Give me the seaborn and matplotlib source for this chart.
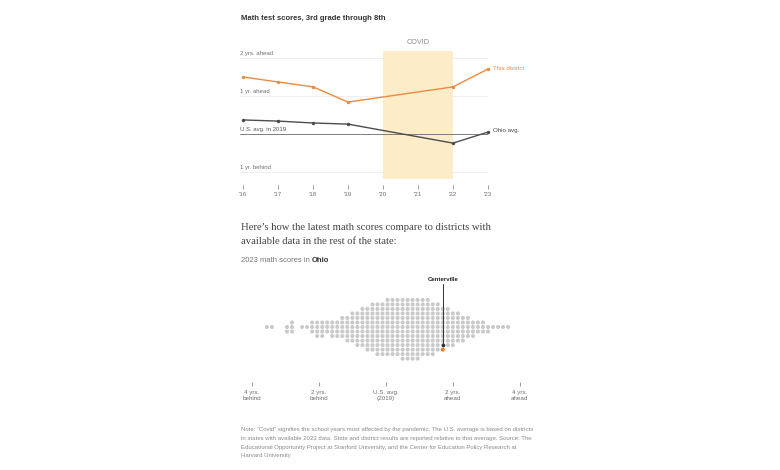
import numpy as np
import pandas as pd
import matplotlib
matplotlib.use("Agg")
import matplotlib.pyplot as plt
import matplotlib.colors as mcolors
import seaborn as sns

# ---------------- data ----------------
years = [2016, 2017, 2018, 2019, 2022, 2023]
district = [1.50, 1.37, 1.24, 0.84, 1.24, 1.71]
ohio = [0.37, 0.34, 0.29, 0.26, -0.24, 0.05]
year_ticks = [2016, 2017, 2018, 2019, 2020, 2021, 2022, 2023]
year_labels = ["'16", "'17", "'18", "'19", "'20", "'21", "'22", "'23"]
grid_levels = [2, 1, -1]
grid_labels = ["2 yrs. ahead", "1 yr. ahead", "1 yr. behind"]
covid_span = [2020, 2022]

# 2023 Ohio district scores (years relative to U.S. avg), read as counts per value
score_values = [-3.54, -3.39, -2.94, -2.79, -2.49, -2.34, -2.19, -2.04, -1.89, -1.74,
                -1.59, -1.44, -1.29, -1.14, -0.99, -0.84, -0.69, -0.54, -0.39, -0.24,
                -0.09, 0.06, 0.21, 0.36, 0.51, 0.66, 0.81, 0.96, 1.11, 1.26,
                1.41, 1.56, 1.71, 1.86, 2.01, 2.16, 2.31, 2.46, 2.61, 2.76,
                2.91, 3.06, 3.21, 3.36, 3.51, 3.66]
score_counts = [1, 1, 2, 3, 1, 1, 3, 4, 4, 3,
                4, 4, 5, 6, 7, 8, 9, 10, 11, 12,
                12, 13, 13, 13, 14, 14, 14, 14, 13, 13,
                12, 11, 9, 9, 8, 7, 6, 5, 4, 3,
                3, 2, 1, 1, 1, 1]
centerville = district[-1]
swarm_ticks = [-4, -2, 0, 2, 4]
swarm_labels = ["4 yrs.\nbehind", "2 yrs.\nbehind", "U.S. avg.\n(2019)", "2 yrs.\nahead", "4 yrs.\nahead"]

# ---------------- style ----------------
sns.set_theme(style="white")
plt.rcParams["font.family"] = ["Liberation Sans", "DejaVu Sans"]

orange = "#ef8a3d"
dot_orange = "#ee7d25"
dark = "#4d4d4d"
band = "#fcecc8"
dot_gray = "#c9c9c9"
label_gray = "#6e6e6e"

W, H = 780, 470
fig = plt.figure(figsize=(W / 100, H / 100), dpi=100)
fig.patch.set_facecolor("white")


def fy(py):
    return 1 - py / H


# ---------------- top line chart ----------------
px_per_year = 35.0
px_per_unit = 38.0
zero_px = 134.0
ax1 = fig.add_axes([240 / W, fy(185), 248 / W, 134 / H])
ax1.set_xlim(2016 - 3 / px_per_year, 2023)
ax1.set_ylim((zero_px - 185) / px_per_unit, (zero_px - 51) / px_per_unit)
ax1.axvspan(covid_span[0], covid_span[1], ymin=6 / 134, ymax=1, color=band, lw=0, zorder=1)
for lev, lab in zip(grid_levels, grid_labels):
    ax1.axhline(lev, color="#ececec", lw=0.6, zorder=0.5)
    ax1.annotate(lab, (ax1.get_xlim()[0], lev), xytext=(0, 1.2), textcoords="offset points",
                 ha="left", va="bottom", fontsize=4.3, color=label_gray)
ax1.axhline(0, color="#6a6a6a", lw=0.6, zorder=2)
ax1.annotate("U.S. avg. in 2019", (ax1.get_xlim()[0], 0), xytext=(0, 1.2), textcoords="offset points",
             ha="left", va="bottom", fontsize=4.3, color="#555555")

sns.lineplot(x=years, y=district, ax=ax1, color=orange, lw=1.0, marker="o", markersize=2.5,
             markeredgewidth=0, zorder=4, clip_on=False)
sns.lineplot(x=years, y=ohio, ax=ax1, color=dark, lw=1.0, marker="o", markersize=2.5,
             markeredgewidth=0, zorder=4, clip_on=False)
ax1.annotate("This district", (years[-1], district[-1]), xytext=(3.5, 0.5), textcoords="offset points",
             ha="left", va="center", fontsize=4.4, color=orange, annotation_clip=False)
ax1.annotate("Ohio avg.", (years[-1], ohio[-1]), xytext=(3.5, 1.0), textcoords="offset points",
             ha="left", va="center", fontsize=4.4, color="#444444", annotation_clip=False)
ax1.annotate("COVID", (sum(covid_span) / 2, 1), xycoords=("data", "axes fraction"),
             xytext=(0, 5.8), textcoords="offset points", ha="center", va="center",
             fontsize=5.2, color="#8a8a8a", annotation_clip=False)

ax1.set_xticks(year_ticks, year_labels)
ax1.set_yticks([])
ax1.tick_params(axis="x", bottom=True, length=3, width=0.6, color="#8a8a8a", direction="out",
                labelsize=4.5, labelcolor=label_gray, pad=1.8)
for s in ax1.spines.values():
    s.set_visible(False)
ax1.patch.set_alpha(0)

# ---------------- swarm ----------------
sw_px = 33.5
center_px = 385.5
ax2 = fig.add_axes([(center_px - 4.5 * sw_px) / W, fy(382), 9 * sw_px / W, 110 / H])
vals = np.repeat(score_values, score_counts)
df = pd.DataFrame({
    "score": np.concatenate([[centerville], vals]),
    "who": ["Centerville"] + ["Other"] * len(vals),
})
sns.swarmplot(data=df, x="score", hue="who", palette={"Other": dot_gray, "Centerville": dot_orange},
              size=2.9, linewidth=0.2, edgecolor="none", legend=False, ax=ax2)
ax2.set_xlim(-4.5, 4.5)
ax2.set_ylim(0.5, -0.5)
ax2.set_xlabel("")
ax2.set_ylabel("")
ax2.set_yticks([])
ax2.set_xticks(swarm_ticks, swarm_labels)
ax2.tick_params(axis="x", bottom=True, length=3, width=0.6, color="#8a8a8a", direction="out",
                labelsize=4.5, labelcolor=label_gray, pad=3)
for s in ax2.spines.values():
    s.set_visible(False)
ax2.patch.set_alpha(0)

# ---------------- texts ----------------
fig.text(241 / W, fy(19), "Math test scores, 3rd grade through 8th", fontsize=5.5,
         fontweight="bold", color="#333333", va="center", ha="left")
fig.text(241 / W, fy(227), "Here\u2019s how the latest math scores compare to districts with",
         family=["Liberation Serif", "DejaVu Serif"], fontsize=7.7, color="#444444", va="center")
fig.text(241 / W, fy(242), "available data in the rest of the state:",
         family=["Liberation Serif", "DejaVu Serif"], fontsize=7.7, color="#444444", va="center")
t = fig.text(241 / W, fy(261), "2023 math scores in", fontsize=5.5, color="#777777", va="center")
ax2.annotate("Ohio", xy=(1, 0.5), xycoords=t, xytext=(1.5, 0), textcoords="offset points",
             fontsize=5.5, fontweight="bold", color="#333333", va="center", ha="left",
             annotation_clip=False)

note_lines = [
    "Note: \u201cCovid\u201d signifies the school years most affected by the pandemic. The U.S. average is based on districts",
    "in states with available 2023 data. State and district results are reported relative to that average. Source: The",
    "Educational Opportunity Project at Stanford University, and the Center for Education Policy Research at",
    "Harvard University",
]
for i, line in enumerate(note_lines):
    fig.text(241 / W, fy(430 + 8.6 * i), line, fontsize=4.3, color="#8a8a8a", va="center", ha="left")

# ---------------- Centerville callout ----------------
fig.canvas.draw()
coll = ax2.collections[0]
offs = coll.get_offsets()
fcs = coll.get_facecolors()
target = np.array(mcolors.to_rgb(dot_orange))
idx = int(np.argmin(((fcs[:, :3] - target) ** 2).sum(axis=1)))
cx, cy = offs[idx]
unit_px = 110.0
y_top = -0.5 + 12 / unit_px
y_end = cy - 4.5 / unit_px
ax2.plot([cx, cx], [y_top, y_end], color="#333333", lw=0.7, clip_on=False, zorder=5)
ax2.plot([cx], [y_end], marker="o", ms=1.6, color="#333333", clip_on=False, zorder=5)
ax2.text(cx, y_top - 2 / unit_px, "Centerville", ha="center", va="bottom", fontsize=4.3,
         fontweight="bold", color="#222222")

fig.savefig("out.png", dpi=100, facecolor="white")
